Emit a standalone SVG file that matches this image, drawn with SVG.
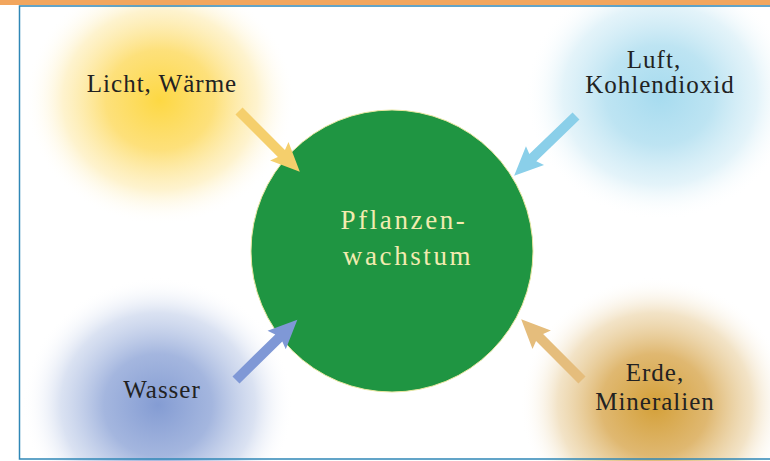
<svg xmlns="http://www.w3.org/2000/svg" width="770" height="461" viewBox="0 0 770 461">
<style>
.lbl{font-family:"Liberation Serif","Times New Roman",serif;font-size:25px;fill:#222;text-anchor:middle;letter-spacing:1px}
.ctr{font-family:"Liberation Serif","Times New Roman",serif;font-size:27px;fill:#f2ebb0;text-anchor:middle;letter-spacing:2.6px}
</style>
<defs>
<radialGradient id="gY"><stop offset="0" stop-color="#fdd843"/><stop offset="0.4" stop-color="#fddd6c" stop-opacity="0.9"/><stop offset="0.72" stop-color="#fde9a6" stop-opacity="0.55"/><stop offset="1" stop-color="#fff" stop-opacity="0"/></radialGradient>
<radialGradient id="gL"><stop offset="0" stop-color="#a6dbef"/><stop offset="0.4" stop-color="#b6e1f1" stop-opacity="0.9"/><stop offset="0.72" stop-color="#cdeaf5" stop-opacity="0.55"/><stop offset="1" stop-color="#fff" stop-opacity="0"/></radialGradient>
<radialGradient id="gB"><stop offset="0" stop-color="#849cd3"/><stop offset="0.4" stop-color="#9aaedb" stop-opacity="0.9"/><stop offset="0.72" stop-color="#bccae7" stop-opacity="0.55"/><stop offset="1" stop-color="#fff" stop-opacity="0"/></radialGradient>
<radialGradient id="gG"><stop offset="0" stop-color="#d4a038"/><stop offset="0.4" stop-color="#dcb061" stop-opacity="0.9"/><stop offset="0.72" stop-color="#e8cc98" stop-opacity="0.55"/><stop offset="1" stop-color="#fff" stop-opacity="0"/></radialGradient>
<path id="arr" d="M0,-5 L60,-5 L57,-13 L86,0 L57,13 L60,5 L0,5 Z"/>
</defs>
<rect width="770" height="461" fill="#fff"/>
<g id="blobs">
<ellipse cx="160" cy="100" rx="135" ry="125" fill="url(#gY)"/>
<ellipse cx="660" cy="95" rx="135" ry="125" fill="url(#gL)"/>
<ellipse cx="158" cy="405" rx="135" ry="128" fill="url(#gB)"/>
<ellipse cx="655" cy="405" rx="135" ry="128" fill="url(#gG)"/>
</g>
<rect x="0" y="0" width="770" height="5" fill="#f2a65e"/>
<rect x="19.5" y="6" width="760" height="453" fill="none" stroke="#2f87b6" stroke-width="1.5"/>
<g id="center">
<circle cx="392" cy="251" r="141" fill="#1f9542" stroke="#e8e6a0" stroke-width="1"/>
<text class="ctr" x="404" y="229">Pflanzen-</text>
<text class="ctr" x="408" y="265">wachstum</text>
</g>
<g id="n-licht"><text class="lbl" x="162" y="92">Licht, Wärme</text></g>
<g id="n-luft"><text class="lbl" x="654" y="68">Luft,</text><text class="lbl" x="660" y="93">Kohlendioxid</text></g>
<g id="n-wasser"><text class="lbl" x="162" y="398">Wasser</text></g>
<g id="n-erde"><text class="lbl" x="655" y="381">Erde,</text><text class="lbl" x="655" y="410">Mineralien</text></g>
<g id="connectors">
<use href="#arr" fill="#f5cf6c" transform="translate(239,111) rotate(45)"/>
<use href="#arr" fill="#8acfe9" transform="translate(576,116) rotate(136)"/>
<use href="#arr" fill="#7f98d6" transform="translate(236,380) rotate(-44.5)"/>
<use href="#arr" fill="#e5bd7c" transform="translate(582,380) rotate(-135)"/>
</g>
</svg>
